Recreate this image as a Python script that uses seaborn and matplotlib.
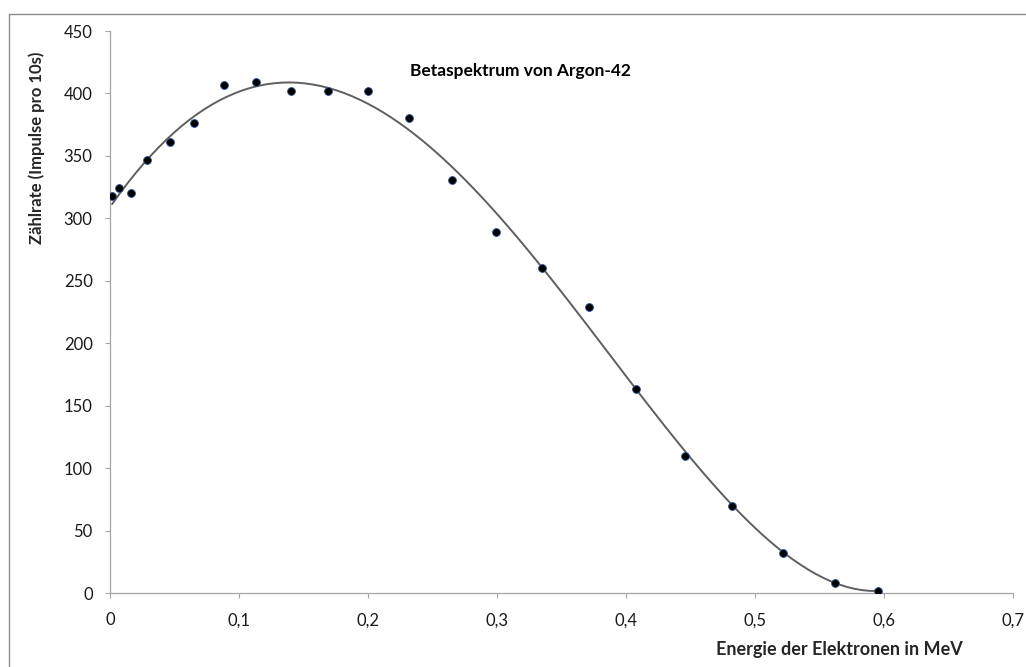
import matplotlib
matplotlib.use("Agg")
import matplotlib.pyplot as plt
import seaborn as sns
import pandas as pd
from matplotlib.patches import Rectangle
from matplotlib.ticker import FuncFormatter, MultipleLocator

energy = [0.0016, 0.007, 0.016, 0.029, 0.0465, 0.065, 0.088, 0.113, 0.140, 0.169, 0.200,
          0.232, 0.265, 0.299, 0.335, 0.371, 0.408, 0.446, 0.482, 0.522, 0.562, 0.595]
counts = [318, 324, 320, 347, 361, 376, 407, 409, 402, 402, 402,
          380, 331, 289, 260, 229, 163, 110, 70, 32, 8, 2]

title = "Betaspektrum von Argon-42"
xlabel = "Energie der Elektronen in MeV"
ylabel = "Zählrate (Impulse pro 10s)"

df = pd.DataFrame({"E": energy, "N": counts})

sns.set_theme(style="white")
plt.rcParams["font.family"] = ["Lato", "DejaVu Sans"]

fig = plt.figure(figsize=(10.26, 6.67), dpi=100)
ax = fig.add_axes([110 / 1026, 1 - 593 / 667, (1013 - 110) / 1026, (593 - 31) / 667])

sns.regplot(data=df, x="E", y="N", order=4, ci=None, ax=ax, truncate=True,
            scatter=False, line_kws=dict(color="#5f5f5f", lw=1.4))
sns.scatterplot(data=df, x="E", y="N", ax=ax, s=32, color="black",
                edgecolor="#2f5597", linewidth=0.6, zorder=5)

ax.set_xlim(0, 0.7)
ax.set_ylim(0, 450)
ax.xaxis.set_major_locator(MultipleLocator(0.1))
ax.yaxis.set_major_locator(MultipleLocator(50))
ax.xaxis.set_major_formatter(FuncFormatter(lambda v, p: f"{v:.1f}".replace(".", ",") if abs(v) > 1e-9 else "0"))
ax.set_xlabel("")
ax.set_ylabel("")

for s in ["top", "right"]:
    ax.spines[s].set_visible(False)
for s in ["left", "bottom"]:
    ax.spines[s].set_color("#a6a6a6")
    ax.spines[s].set_linewidth(0.9)
ax.tick_params(axis="both", which="major", direction="out", length=3.5, width=0.8,
               color="#a6a6a6", labelsize=12, labelcolor="#1a1a1a",
               bottom=True, left=True)
ax.tick_params(axis="x", pad=10.5)
ax.tick_params(axis="y", pad=9)

ax.text(0.318, 418, title, ha="center", va="center", fontsize=12.5, fontweight="bold", color="black")

fig.text(839 / 1026, 1 - 650 / 667, xlabel, ha="center", va="center", fontsize=13, fontweight="bold")
fig.text(37 / 1026, 1 - 148 / 667, ylabel, ha="center", va="center", rotation=90, fontsize=12, fontweight="bold")

fig.patches.append(Rectangle((9 / 1026, -0.05), 1.2, 1 - 14 / 667 + 0.05, transform=fig.transFigure,
                             fill=False, edgecolor="#8c8c8c", linewidth=1.0, figure=fig))

fig.savefig("out.png", dpi=100, facecolor="white")
